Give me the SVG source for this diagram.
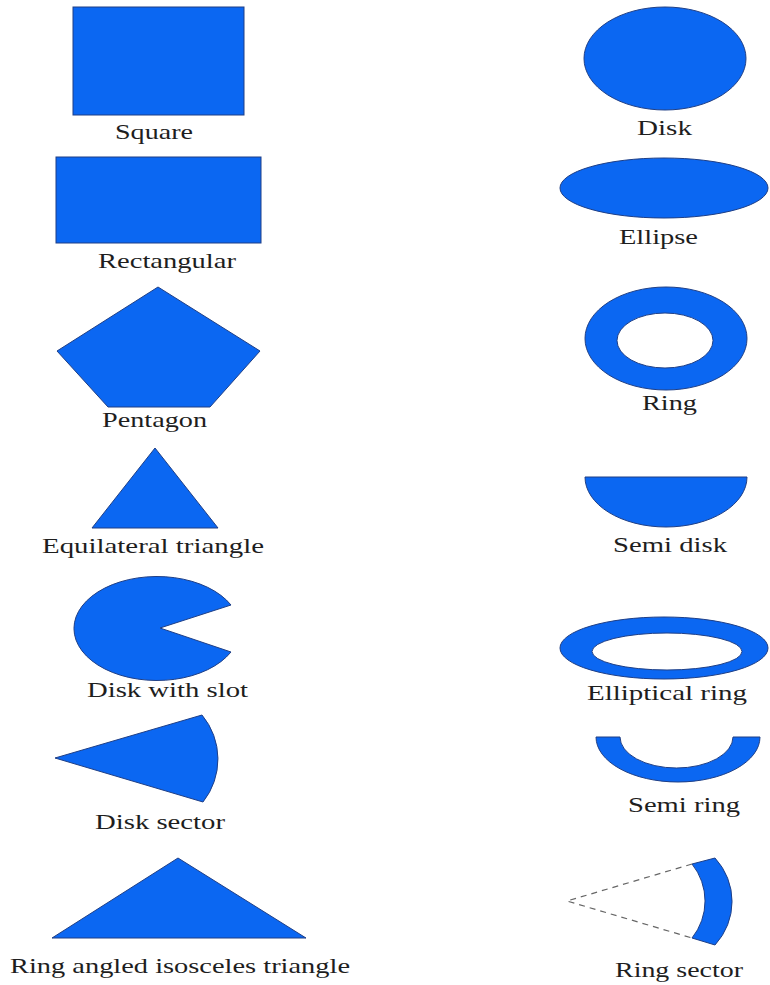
<svg xmlns="http://www.w3.org/2000/svg" width="770" height="985" viewBox="0 0 770 985">
<style>
.s{fill:#0b67f2;stroke:#1f3f86;stroke-width:1}
.r{fill:#0b67f2;fill-rule:evenodd;stroke:#1f3f86;stroke-width:1}
.t{font-family:"Liberation Serif","Times New Roman",serif;font-size:21px;fill:#1e1e1e}
.d{fill:none;stroke:#666;stroke-width:1.2;stroke-dasharray:6 5}
</style>
<rect width="770" height="985" fill="#fff"/>
<g id="square"><rect class="s" x="73" y="7" width="171" height="108"/><text class="t" x="115" y="139" textLength="78" lengthAdjust="spacingAndGlyphs">Square</text></g>
<g id="rectangular"><rect class="s" x="56" y="157" width="205" height="86"/><text class="t" x="98" y="268" textLength="138" lengthAdjust="spacingAndGlyphs">Rectangular</text></g>
<g id="pentagon"><polygon class="s" points="158,287 260,351 210,407 108,407 57,351"/><text class="t" x="102" y="427" textLength="105" lengthAdjust="spacingAndGlyphs">Pentagon</text></g>
<g id="equilateral-triangle"><polygon class="s" points="155,448 218,528 92,528"/><text class="t" x="42" y="553" textLength="222" lengthAdjust="spacingAndGlyphs">Equilateral triangle</text></g>
<g id="disk-with-slot"><path class="s" d="M231,605 A83,52 0 1 0 231,652 L160,628 Z"/><text class="t" x="87" y="697" textLength="161" lengthAdjust="spacingAndGlyphs">Disk with slot</text></g>
<g id="disk-sector"><path class="s" d="M55,758 L202,715 A69,69 0 0 1 203,802 Z"/><text class="t" x="95" y="829" textLength="130" lengthAdjust="spacingAndGlyphs">Disk sector</text></g>
<g id="isosceles-triangle"><polygon class="s" points="178,858 306,938 52,938"/><text class="t" x="10" y="973" textLength="340" lengthAdjust="spacingAndGlyphs">Ring angled isosceles triangle</text></g>
<g id="disk"><ellipse class="s" cx="665" cy="58.5" rx="81" ry="51.5"/><text class="t" x="637" y="135" textLength="55" lengthAdjust="spacingAndGlyphs">Disk</text></g>
<g id="ellipse"><ellipse class="s" cx="664" cy="188" rx="104" ry="30"/><text class="t" x="619" y="244" textLength="79" lengthAdjust="spacingAndGlyphs">Ellipse</text></g>
<g id="ring"><path class="r" d="M585,338.5 A81,51.5 0 1 0 747,338.5 A81,51.5 0 1 0 585,338.5 Z M617,340.5 A48,27.5 0 1 0 713,340.5 A48,27.5 0 1 0 617,340.5 Z"/><text class="t" x="642" y="410" textLength="55" lengthAdjust="spacingAndGlyphs">Ring</text></g>
<g id="semi-disk"><path class="s" d="M585,477 A81,50 0 0 0 747,477 Z"/><text class="t" x="613" y="552" textLength="114" lengthAdjust="spacingAndGlyphs">Semi disk</text></g>
<g id="elliptical-ring"><path class="r" d="M560,648 A104,31 0 1 0 768,648 A104,31 0 1 0 560,648 Z M592,651.5 A75,18.5 0 1 0 742,651.5 A75,18.5 0 1 0 592,651.5 Z"/><text class="t" x="587" y="700" textLength="160" lengthAdjust="spacingAndGlyphs">Elliptical ring</text></g>
<g id="semi-ring"><path class="s" d="M596,737 A82,45 0 0 0 760,737 L733,737 A56.5,31 0 0 1 620,737 Z"/><text class="t" x="628" y="812" textLength="112" lengthAdjust="spacingAndGlyphs">Semi ring</text></g>
<g id="ring-sector"><path class="s" d="M715,858 A64,64 0 0 1 715,945 L692,938 A59,59 0 0 0 692,864 Z"/><text class="t" x="615" y="977" textLength="128" lengthAdjust="spacingAndGlyphs">Ring sector</text></g>
<g id="connectors"><path class="d" d="M692,864 L567,901 L692,938"/></g>
</svg>
